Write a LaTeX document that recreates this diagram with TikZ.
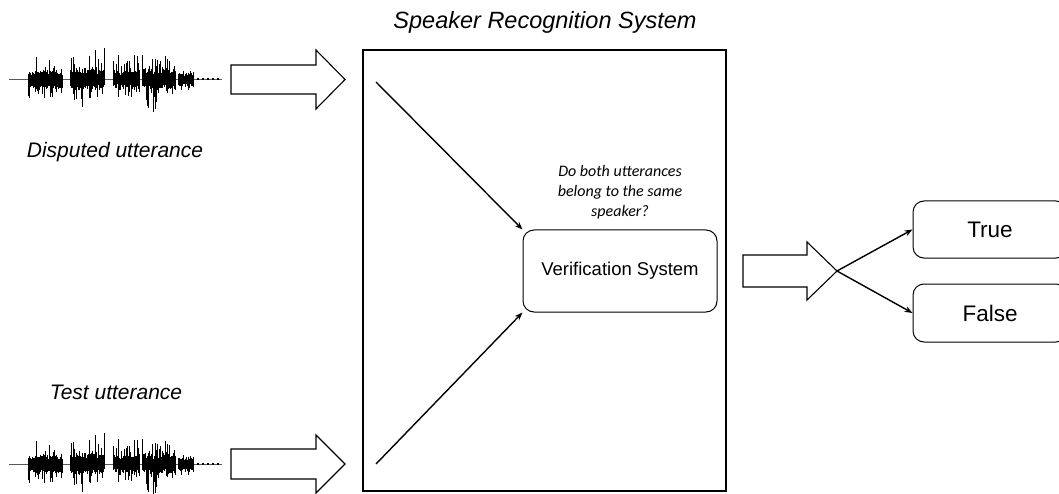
\documentclass[tikz,border=0pt]{standalone}
\usepackage{fontspec}
\setmainfont{Liberation Sans}
\newfontfamily\calibri{Carlito}
\usetikzlibrary{arrows.meta}
\tikzset{
  bigbox/.style={draw, line width=2.2pt, minimum width=363pt, minimum height=441pt, inner sep=0pt},
  roundbox/.style={draw, line width=1pt, rounded corners=11pt, inner sep=0pt},
  thinarrow/.style={line width=1.4pt, -{Stealth[length=8pt,width=6pt]}},
  hollow/.style={draw, line width=1.1pt, fill=white, line join=miter},
  lbl/.style={font=\fontsize{21}{23}\selectfont\itshape, inner sep=0pt},
}
\newcommand\drawwave[1]{%
  \pgfmathsetseed{1234}%
  \draw[line width=0.8pt, gray!70!black] (9,#1) -- (222,#1);
  \foreach \a/\b/\core/\up/\dn in {28/62/9/24/23, 70/104/10/33/33, 113/139/9/30/20, 142/175/10/28/36, 178/193/7/12/12}{
    \foreach \x in {\a,...,\b}{
      \pgfmathsetmacro\u{\core*(0.5+0.5*rnd)+(\up-\core)*rnd^4}
      \pgfmathsetmacro\d{\core*(0.5+0.5*rnd)+(\dn-\core)*rnd^4}
      \draw[line width=1pt] (\x,#1+\u) -- (\x,#1-\d);
    }
  }
  \foreach \x in {198,203,208,213,218}{\draw[line width=1.2pt] (\x,#1+1) -- (\x,#1-1);}
}
\begin{document}
\begin{tikzpicture}[x=1pt,y=1pt]
\useasboundingbox (0,0) rectangle (1059,-494);

% title and main box
\node[bigbox] (srs) at (544.5,-270.5) {};
\node[lbl, font=\fontsize{23.5}{25}\selectfont\itshape] (title) at (545,-22) {Speaker Recognition System};

% waveforms
\drawwave{-79.5}
\drawwave{-464}

% labels
\node[lbl] (disputed) at (115,-152) {Disputed utterance};
\node[lbl] (test) at (116,-392) {Test utterance};

% hollow input arrows
\draw[hollow] (231,-65) -- (316,-65) -- (316,-50) -- (345,-79.5) -- (316,-109) -- (316,-94) -- (231,-94) -- cycle;
\draw[hollow] (231,-449) -- (316,-449) -- (316,-435) -- (345,-464) -- (316,-493) -- (316,-479) -- (231,-479) -- cycle;

% verification system
\node[roundbox, minimum width=194pt, minimum height=82pt, font=\fontsize{18.5}{20}\selectfont] (ver) at (620,-271) {Verification System};
\node[inner sep=0pt, align=center, font=\calibri\itshape\fontsize{16}{20}\selectfont] (question) at (620,-192) {Do both utterances\\belong to the same\\speaker?};

\coordinate (in1) at (376,-82);
\coordinate (in2) at (376,-464);
\draw[thinarrow] (in1) -- (ver.north west);
\draw[thinarrow] (in2) -- (ver.south west);

% output arrow
\draw[hollow] (743,-255) -- (807,-255) -- (807,-242) -- (837,-271) -- (807,-300) -- (807,-287) -- (743,-287) -- cycle;
\coordinate (split) at (837,-271);

\node[roundbox, minimum width=154pt, minimum height=57pt, font=\fontsize{22.5}{24}\selectfont] (true) at (990,-229.5) {True};
\node[roundbox, minimum width=154pt, minimum height=58pt, font=\fontsize{22.5}{24}\selectfont] (false) at (990,-313) {False};

\draw[thinarrow] (split) -- (true.west);
\draw[thinarrow] (split) -- (false.west);
\end{tikzpicture}
\end{document}
